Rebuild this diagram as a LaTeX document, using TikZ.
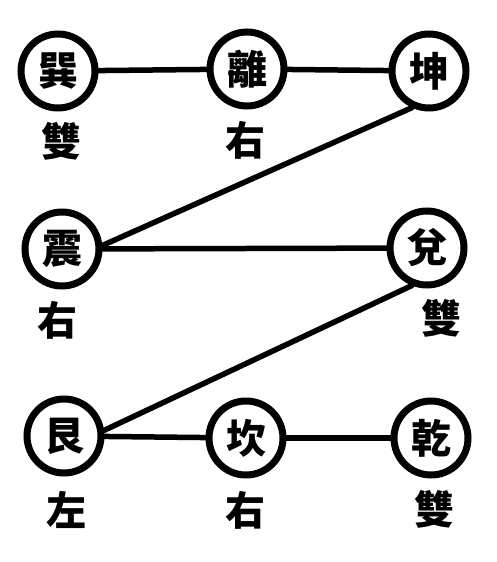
\documentclass[tikz,border=0pt]{standalone}
\usepackage{fontspec}
\newfontfamily\cjk{Noto Sans CJK TC}
\begin{document}
\begin{tikzpicture}[x=1pt,y=-1pt,
  gua/.style={circle,draw=black,line width=7pt,minimum size=74pt,inner sep=0pt,
    font=\cjk\bfseries\fontsize{40}{40}\selectfont},
  lbl/.style={inner sep=0pt,font=\cjk\bfseries\fontsize{40}{40}\selectfont},
  link/.style={line width=5.5pt,line cap=round}]
\useasboundingbox[fill=white] (0,0) rectangle (496,562);
% row 1
\node[gua] (xun) at (58,71) {巽};
\node[gua] (li)  at (247,69) {離};
\node[gua] (kun) at (429,71) {坤};
% row 2
\node[gua] (zhen) at (62,249) {震};
\node[gua] (dui)  at (427,248) {兌};
% row 3
\node[gua] (gen) at (64,436) {艮};
\node[gua] (kan) at (246,438) {坎};
\node[gua] (qian) at (431,438) {乾};
% labels
\node[lbl] (l1) at (61,141) {雙};
\node[lbl] (l2) at (245,140) {右};
\node[lbl] (l3) at (57,320) {右};
\node[lbl] (l4) at (441,318) {雙};
\node[lbl] (l5) at (66,510) {左};
\node[lbl] (l6) at (245,510) {右};
\node[lbl] (l7) at (434,509) {雙};
% connectors
\draw[link] (xun) -- (li);
\draw[link] (li) -- (kun);
\draw[link] (kun.245) -- (zhen.5);
\draw[link] (zhen) -- (dui);
\draw[link] (dui.248) -- (gen.8);
\draw[link] (gen) -- (kan);
\draw[link] (kan) -- (qian);
\end{tikzpicture}
\end{document}
